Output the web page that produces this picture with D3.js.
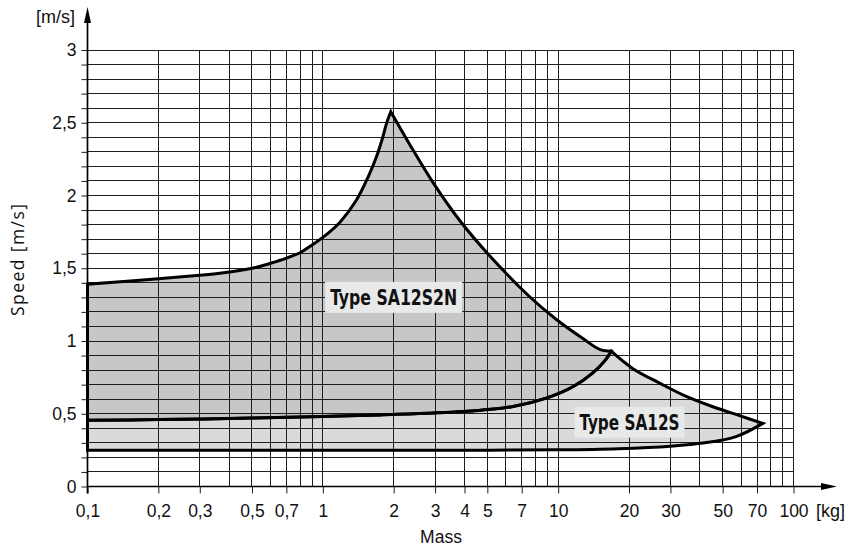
<!DOCTYPE html>
<html><head><meta charset="utf-8">
<script src="https://cdn.jsdelivr.net/npm/d3@7"></script>
<style>
html,body{margin:0;padding:0;background:#fff;}
svg{display:block;font-family:"Liberation Sans",Arial,Helvetica,sans-serif;}
</style></head><body>
<svg id="chart" width="855" height="553"></svg>
<script>
// ---------- data ----------
const xTickValues = [0.1,0.2,0.3,0.5,0.7,1,2,3,4,5,7,10,20,30,50,70,100];
const xTickLabels = ["0,1","0,2","0,3","0,5","0,7","1","2","3","4","5","7","10","20","30","50","70","100"];
const yTickValues = [0,0.5,1,1.5,2,2.5,3];
const yTickLabels = ["0","0,5","1","1,5","2","2,5","3"];

// SA12S2N upper boundary (mass kg, speed m/s), rising to the peak
const sa12s2nTop = [[0.1,1.39],[0.2,1.428],[0.3,1.452],[0.365,1.465],[0.5,1.50],[0.6,1.534],[0.7,1.569],[0.81,1.612],[0.9,1.66],[1.0,1.712],[1.18,1.815],[1.39,1.969],[1.56,2.13],[1.69,2.266],[1.8,2.404],[1.865,2.496],[1.944,2.576]];
// outer boundary descending from the peak to the SA12S tip
const outerEdge = [[1.944,2.576],[2.418,2.312],[2.969,2.078],[3.817,1.828],[5.035,1.598],[7.568,1.304],[9.827,1.148],[12.74,1.017],[15.0,0.943],[20.78,0.81],[26.98,0.711],[35.03,0.619],[45.43,0.548],[58.98,0.487],[74.08,0.434]];
// shared boundary: SA12S2N lower edge = SA12S upper edge, ending at the notch tip
const sharedEdge = [[0.1,0.455],[0.2,0.46],[0.5,0.47],[1.0,0.481],[1.75,0.492],[3.94,0.515],[6.44,0.55],[8.9,0.607],[11.6,0.687],[14.0,0.779],[15.9,0.87],[16.8,0.93]];
// SA12S lower boundary
const sa12sBottom = [[0.1,0.25],[2,0.25],[5,0.25],[10,0.252],[18,0.26],[30,0.277],[42,0.3],[57,0.343],[74.08,0.434]];

const labelTexts = ["Type SA12S2N","Type SA12S"];
const labelMass = [2.0, 20.1];
const labelSpeed = [1.3, 0.442];

// ---------- layout ----------
const svg = d3.select("#chart");
const x = d3.scaleLog().domain([0.1,100]).range([87.5,793.5]);
const y = d3.scaleLinear().domain([0,3]).range([486.5,50]);

const lineGen = d3.line().x(d=>x(d[0])).y(d=>y(d[1])).curve(d3.curveCatmullRom.alpha(0.5));
function joinSegs(segs){
  return segs.map((s,i)=>{ const p = lineGen(s); return i===0 ? p : p.replace(/^M/,"L"); }).join("") + "Z";
}
const tip = sharedEdge[sharedEdge.length-1];
const outerN = outerEdge.filter(d=>d[0] <= 15.0).concat([tip]);
const outerS = [tip].concat(outerEdge.filter(d=>d[0] > 17.0));
const pathS = joinSegs([[[0.1,0.25],[0.1,0.455]], sharedEdge, outerS, sa12sBottom.slice().reverse()]);
const pathN = joinSegs([[[0.1,0.455],[0.1,1.39]], sa12s2nTop, outerN, sharedEdge.slice().reverse()]);

// fills
svg.append("path").attr("d",pathS).attr("fill","#d9dadc");
svg.append("path").attr("d",pathN).attr("fill","#c6c7c9");

// grid
const xGrid = [];
[0.1,1,10].forEach(d=>{ for(let k=1;k<10;k++) xGrid.push(+(d*k).toPrecision(3)); });
xGrid.push(100);
const yGrid = d3.range(1,31).map(i=>i/10);

const grid = svg.append("g").attr("stroke","#1e1e1e").attr("stroke-width",1).attr("shape-rendering","crispEdges");
grid.selectAll("line.v").data(xGrid).join("line").attr("class","v")
  .attr("x1",d=>x(d)).attr("x2",d=>x(d)).attr("y1",y(3)).attr("y2",y(0));
grid.selectAll("line.h").data(yGrid).join("line").attr("class","h")
  .attr("x1",x(0.1)).attr("x2",x(100)).attr("y1",d=>y(d)).attr("y2",d=>y(d));

// axes (ticks + labels)
const xAxis = d3.axisBottom(x).tickValues(xTickValues).tickFormat((d,i)=>xTickLabels[i]).tickSize(7).tickPadding(11);
const gx = svg.append("g").attr("transform",`translate(0,${y(0)})`).call(xAxis);
gx.select(".domain").remove();
gx.selectAll("line").attr("stroke","#1e1e1e");
gx.selectAll("text").attr("font-size",17.5).attr("fill","#111");
gx.attr("font-family",null);

const yAxis = d3.axisLeft(y).tickValues(d3.range(0,31).map(i=>i/10)).tickFormat(d=>{const i=yTickValues.findIndex(v=>Math.abs(v-d)<1e-9); return i>=0?yTickLabels[i]:"";}).tickSize(6).tickPadding(5);
const gy = svg.append("g").attr("transform",`translate(${x(0.1)},0)`).call(yAxis);
gy.select(".domain").remove();
gy.selectAll("line").attr("stroke","#1e1e1e");
gy.selectAll("text").attr("font-size",17.5).attr("fill","#111");
gy.attr("font-family",null);

// outlines
svg.append("path").attr("d",pathS).attr("fill","none").attr("stroke","#000").attr("stroke-width",3).attr("stroke-linejoin","miter");
svg.append("path").attr("d",pathN).attr("fill","none").attr("stroke","#000").attr("stroke-width",3).attr("stroke-linejoin","miter");

// axis lines with arrows
const ax = svg.append("g");
ax.append("line").attr("x1",x(0.1)).attr("x2",824).attr("y1",y(0)).attr("y2",y(0)).attr("stroke","#000").attr("stroke-width",1.7);
ax.append("path").attr("d",`M837,${y(0)} L821,${y(0)-3.5} L821,${y(0)+3.5} Z`).attr("fill","#000");
ax.append("line").attr("x1",x(0.1)).attr("x2",x(0.1)).attr("y1",y(0)+7).attr("y2",20).attr("stroke","#000").attr("stroke-width",1.7);
ax.append("path").attr("d",`M${x(0.1)},7 L${x(0.1)-3.5},23 L${x(0.1)+3.5},23 Z`).attr("fill","#000");

// unit labels and titles
svg.append("text").attr("x",75).attr("y",23).attr("text-anchor","end").attr("font-size",18).attr("fill","#111").text("[m/s]");
svg.append("text").attr("x",816).attr("y",517).attr("text-anchor","start").attr("font-size",18).attr("fill","#111").text("[kg]");
svg.append("text").attr("x",441).attr("y",543).attr("text-anchor","middle").attr("font-size",17.5).attr("fill","#111").text("Mass");
svg.append("text").attr("transform","translate(17,260) rotate(-90)").attr("text-anchor","middle").attr("dominant-baseline","central")
  .attr("font-family","'Open Sans','Noto Sans',sans-serif")
  .attr("font-size",17.5).attr("fill","#111").attr("textLength",112).attr("lengthAdjust","spacing").text("Speed  [m/s]");

// type labels
const widths = [127,100];
labelTexts.forEach((t,i)=>{
  const cx = x(labelMass[i]), cy = y(labelSpeed[i]);
  const g = svg.append("g");
  const w = widths[i];
  g.append("rect").attr("x",cx-w/2-5).attr("y",cy-15.5).attr("width",w+10).attr("height",31).attr("fill","#e8e9e9");
  g.append("text").attr("x",cx).attr("y",cy+7.5).attr("text-anchor","middle")
    .attr("font-family","'Liberation Sans Narrow','DejaVu Sans Condensed','Roboto Condensed',sans-serif")
    .attr("font-weight","bold").attr("font-size",21).attr("fill","#111")
    .attr("textLength",w).attr("lengthAdjust","spacingAndGlyphs").text(t);
});
</script>
</body></html>
